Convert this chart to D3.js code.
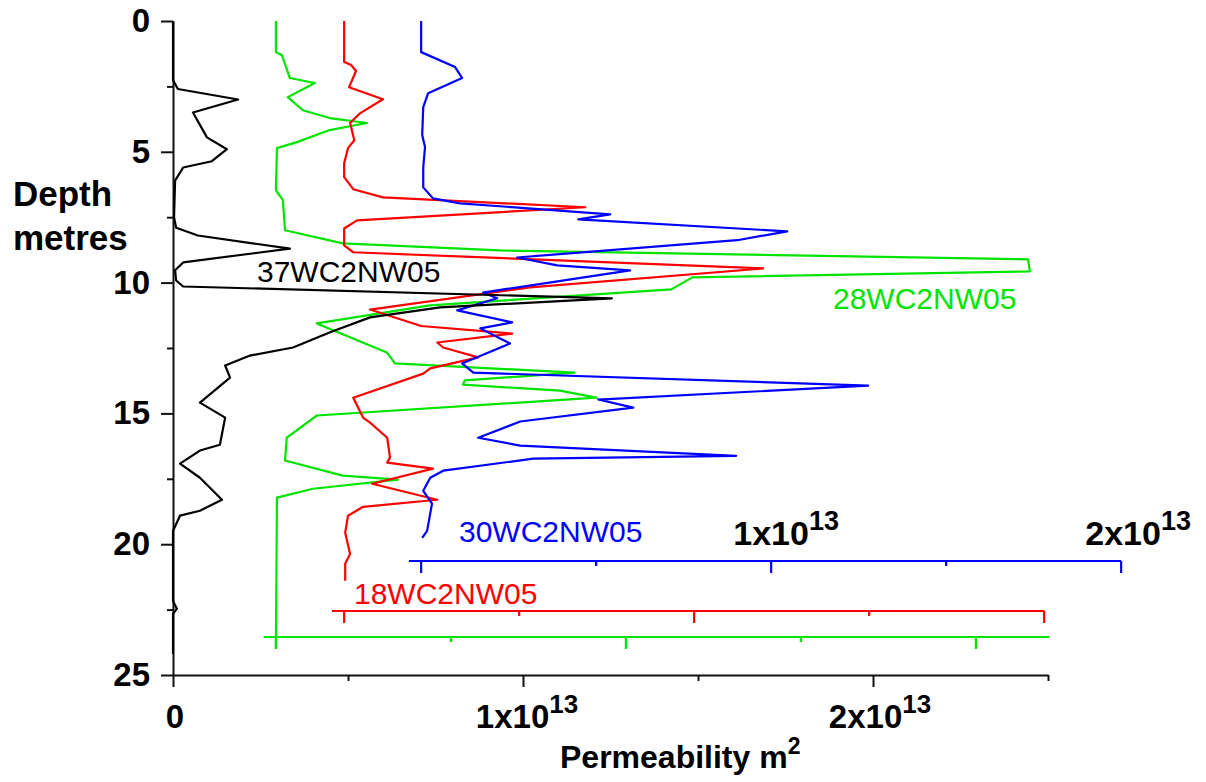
<!DOCTYPE html>
<meta charset="utf-8">
<style>
  body { margin: 0; background: #fff; }
  svg text { font-family: Arial, "Liberation Sans", sans-serif; }
  .axis .domain, .axis line { stroke: #111; stroke-width: 2px; }
  .axis text { font-size: 33px; font-weight: bold; fill: #000; }
  .bold { font-weight: bold; fill: #000; }
  .curve { fill: none; stroke-width: 2.2px; stroke-linejoin: round; }
  .name { font-size: 30px; }
</style>
<svg width="1206" height="782"></svg>
<script src="https://cdn.jsdelivr.net/npm/d3@7"></script>
<script>
  // depth in metres, permeability in units of 1x10^13
  var depth37 = [0, 2.26, 2.6, 3.0, 3.5, 4.45, 4.9, 5.36, 5.6, 6.1, 7.5, 7.9, 8.2, 8.7, 9.23, 9.53, 9.92, 10.15, 10.6, 10.95, 11.33, 11.9, 12.48, 12.79, 13.17, 13.63, 14.59, 15.16, 16.2, 16.42, 16.92, 17.46, 18.3, 18.72, 18.91, 19.49, 19.98, 22.17, 22.47, 22.66, 24.2]
  var perm37 = [0, 0, 0.014, 0.186, 0.057, 0.097, 0.154, 0.111, 0.029, 0.006, 0.003, 0.009, 0.071, 0.334, 0.029, 0.006, 0.009, 0.029, 1.254, 0.763, 0.563, 0.449, 0.343, 0.22, 0.149, 0.163, 0.077, 0.149, 0.134, 0.077, 0.02, 0.077, 0.14, 0.077, 0.02, 0, 0, 0, 0.011, 0, 0]

  var depth28 = [0, 1.19, 1.3, 2.18, 2.37, 2.91, 3.41, 3.71, 3.9, 4.17, 4.63, 4.86, 6.47, 6.85, 8.0, 8.5, 8.77, 9.11, 9.57, 9.8, 10.26, 10.87, 11.56, 12.67, 13.09, 13.44, 13.74, 13.9, 14.13, 14.4, 15.08, 15.93, 16.8, 17.38, 17.53, 17.88, 18.22, 24.0]
  var perm28 = [0, 0, 0.017, 0.04, 0.111, 0.034, 0.077, 0.154, 0.26, 0.154, 0.06, 0.003, 0, 0.02, 0.026, 0.191, 0.64, 2.149, 2.154, 1.19, 1.13, 0.44, 0.117, 0.317, 0.34, 0.853, 0.54, 0.534, 0.811, 0.916, 0.117, 0.031, 0.026, 0.191, 0.349, 0.106, 0.003, 0]

  var depth18 = [0, 1.57, 1.68, 1.91, 2.53, 2.99, 3.52, 3.9, 4.56, 4.86, 5.44, 5.97, 6.43, 6.74, 7.12, 7.62, 7.93, 8.58, 8.84, 9.46, 10.18, 11.03, 11.66, 11.95, 12.29, 12.48, 12.86, 13.28, 13.48, 14.4, 15.16, 15.35, 15.93, 16.69, 16.88, 17.11, 17.69, 18.3, 18.57, 18.91, 19.56, 20.37, 20.75, 21.4]
  var perm18 = [0, 0, 0.02, 0.034, 0.014, 0.111, 0.046, 0.017, 0.029, 0.011, 0, 0, 0.026, 0.111, 0.689, 0.037, 0, 0, 0.026, 1.197, 0.531, 0.074, 0.22, 0.48, 0.266, 0.283, 0.383, 0.246, 0.226, 0.026, 0.054, 0.074, 0.123, 0.131, 0.123, 0.254, 0.08, 0.266, 0.054, 0.011, 0.003, 0.017, 0.003, 0.003]

  var depth30 = [0, 1.19, 1.76, 2.18, 2.76, 3.29, 4.36, 4.82, 5.59, 6.36, 6.78, 6.97, 7.39, 7.58, 8.04, 8.38, 9.04, 9.34, 9.53, 10.38, 10.6, 11.06, 11.52, 11.75, 12.33, 13.09, 13.44, 13.94, 14.47, 14.78, 15.31, 15.93, 16.23, 16.62, 16.73, 17.19, 17.46, 17.96, 18.45, 19.49, 19.76]
  var perm30 = [0, 0, 0.097, 0.117, 0.02, 0.006, 0.003, 0.011, 0.006, 0.006, 0.034, 0.111, 0.54, 0.449, 1.046, 0.903, 0.274, 0.389, 0.597, 0.177, 0.217, 0.103, 0.26, 0.169, 0.254, 0.117, 0.149, 1.277, 0.506, 0.606, 0.283, 0.163, 0.283, 0.9, 0.32, 0.063, 0.026, 0.006, 0.031, 0.017, 0.003]

  var seriesNames = ["28WC2NW05", "18WC2NW05", "30WC2NW05", "37WC2NW05"]
  var seriesOffsets = [0.294, 0.489, 0.709, 0]   // zero of each shifted curve, 1x10^13
  var depthTicks = d3.range(0, 25.01, 2.5)
  var permTicks = d3.range(0, 2.51, 0.5)
  var subTicks = d3.range(0, 2.01, 0.5)

  var svg = d3.select("svg")
  var x = d3.scaleLinear().domain([0, 2.5]).range([173, 1048])
  var y = d3.scaleLinear().domain([0, 25]).range([21, 675])

  var series = [
    { name: seriesNames[0], off: seriesOffsets[0], d: depth28, v: perm28, color: "#00e400", axisY: 637, axisEnd: 2.21, lx: 833, ly: 309 },
    { name: seriesNames[1], off: seriesOffsets[1], d: depth18, v: perm18, color: "#ff0000", axisY: 611, axisEnd: 2, lx: 354, ly: 604 },
    { name: seriesNames[2], off: seriesOffsets[2], d: depth30, v: perm30, color: "#0000ff", axisY: 561, axisEnd: 2, lx: 459, ly: 542 },
    { name: seriesNames[3], off: seriesOffsets[3], d: depth37, v: perm37, color: "#000000", lx: 257, ly: 282 }
  ]

  // main axes
  var yAxis = svg.append("g").attr("class", "axis").attr("transform", "translate(" + x(0) + ",0)")
    .call(d3.axisLeft(y).tickValues(depthTicks).tickSize(12).tickSizeOuter(0).tickPadding(11)
      .tickFormat(d => d % 5 === 0 ? d : ""))
  yAxis.selectAll(".tick line").attr("x2", d => d % 5 === 0 ? -12 : -6)

  var xAxis = svg.append("g").attr("class", "axis").attr("transform", "translate(0," + y(25) + ")")
    .call(d3.axisBottom(x).tickValues(permTicks).tickSize(12).tickSizeOuter(0).tickFormat(""))
  xAxis.selectAll(".tick line").attr("y2", d => d % 1 === 0 ? 12 : 6)

  function powLabel(g, txt, px, py, size, supSize) {
    var t = g.append("text").attr("class", "bold").attr("x", px).attr("y", py)
      .attr("text-anchor", "middle").style("font-size", size + "px")
    t.append("tspan").text(txt)
    t.append("tspan").attr("dy", -size * 0.45).style("font-size", supSize + "px").text("13")
  }

  svg.append("text").attr("class", "bold").attr("x", x(0) + 2).attr("y", 728)
    .attr("text-anchor", "middle").style("font-size", "33px").text("0")
  powLabel(svg, "1x10", x(1) + 4, 728, 33, 26)
  powLabel(svg, "2x10", x(2) + 7, 728, 33, 26)

  var xt = svg.append("text").attr("class", "bold").attr("x", 560).attr("y", 768).style("font-size", "32px")
  xt.append("tspan").text("Permeability m")
  xt.append("tspan").attr("dy", -14).style("font-size", "23px").text("2")

  svg.append("text").attr("class", "bold").attr("x", 13).attr("y", 206).style("font-size", "35px").text("Depth")
  svg.append("text").attr("class", "bold").attr("x", 13).attr("y", 250).style("font-size", "35px").text("metres")

  // shifted axes for the coloured curves
  series.filter(s => s.axisY).forEach(s => {
    var g = svg.append("g").attr("transform", "translate(0," + s.axisY + ")")
    g.append("line").attr("x1", x(s.off - 0.035)).attr("x2", x(s.off + s.axisEnd))
      .attr("stroke", s.color).attr("stroke-width", 2.2)
    g.selectAll("line.t").data(subTicks).enter().append("line").attr("class", "t")
      .attr("x1", d => x(s.off + d)).attr("x2", d => x(s.off + d))
      .attr("y1", 0).attr("y2", d => d % 1 === 0 ? 12 : 5)
      .attr("stroke", s.color).attr("stroke-width", 2.2)
  })
  var blue = series[2]
  powLabel(svg, "1x10", x(blue.off + 1) + 15, 545, 34, 27)
  powLabel(svg, "2x10", x(blue.off + 2) + 17, 545, 34, 27)

  // curves
  var line = d3.line()
  series.forEach(s => {
    var pts = s.d.map((dep, i) => [x(s.off + s.v[i]), y(dep)])
    svg.append("path").attr("class", "curve").attr("stroke", s.color).attr("d", line(pts))
  })

  svg.selectAll("text.name").data(series).enter().append("text").attr("class", "name")
    .attr("x", d => d.lx).attr("y", d => d.ly).attr("fill", d => d.color).text(d => d.name)
</script>
